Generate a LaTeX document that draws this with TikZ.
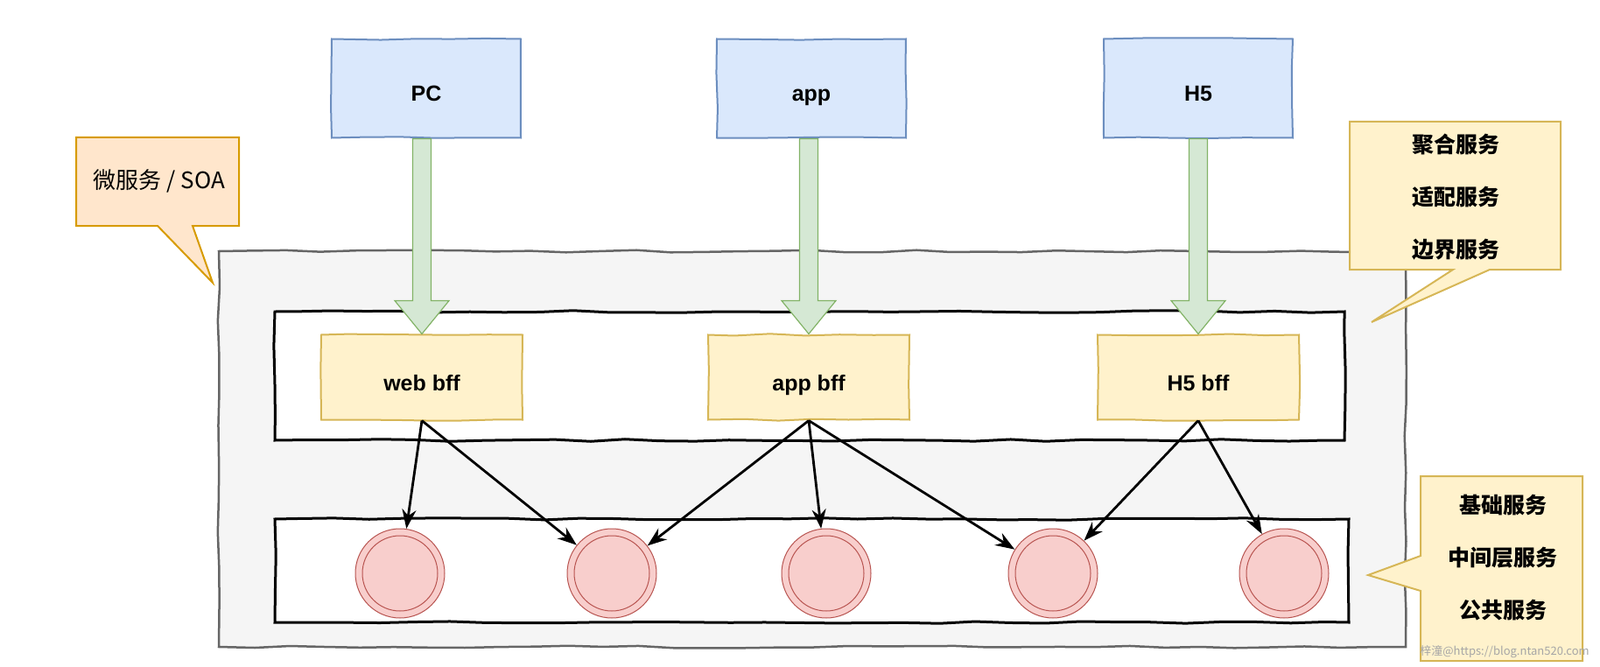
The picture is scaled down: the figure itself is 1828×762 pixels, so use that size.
\documentclass[tikz,border=0pt]{standalone}
\usepackage{fontspec}
\setmainfont{Liberation Sans}
\newfontfamily\cjk{Noto Sans CJK SC}
\usetikzlibrary{decorations.pathmorphing,arrows.meta,calc}
\definecolor{clientfill}{HTML}{DAE8FC}
\definecolor{clientline}{HTML}{6C8EBF}
\definecolor{bfffill}{HTML}{FFF2CC}
\definecolor{bffline}{HTML}{D6B656}
\definecolor{soafill}{HTML}{FFE6CC}
\definecolor{soaline}{HTML}{D79B00}
\definecolor{greenfill}{HTML}{D5E8D4}
\definecolor{greenline}{HTML}{82B366}
\definecolor{svcfill}{HTML}{F8CECC}
\definecolor{svcline}{HTML}{B85450}
\definecolor{zonefill}{HTML}{F5F5F5}
\definecolor{zoneline}{HTML}{666666}
\newcommand{\lbl}{\fontsize{25}{30}\selectfont\bfseries}
\newcommand{\cjklbl}{\fontsize{25}{60}\selectfont\cjk\bfseries}
\newcommand{\fatarrow}[2]{%
  \filldraw[fill=greenfill, draw=greenline, line width=1.2pt, line join=miter]
    ($(#1.south -| #2.north)+(-10.5,0)$) -- ($(#2.north)+(-10.5,-38)$)
    -- ($(#2.north)+(-31,-38)$) -- (#2.north) -- ($(#2.north)+(31,-38)$)
    -- ($(#2.north)+(10.5,-38)$) -- ($(#1.south -| #2.north)+(10.5,0)$) -- cycle;}

\begin{document}
\begin{tikzpicture}[x=1pt,y=-1pt,
    sketch/.style={decorate, decoration={random steps, segment length=40pt, amplitude=1.3pt}},
    client/.style={sketch, draw=clientline, fill=clientfill, line width=2pt,
      minimum width=216pt, minimum height=113pt, font=\lbl, text height=30pt, text depth=0pt},
    bff/.style={sketch, draw=bffline, fill=bfffill, line width=2pt,
      minimum width=230pt, minimum height=97pt, font=\lbl, text height=30pt, text depth=0pt},
    layer/.style={sketch, draw=black, fill=white, line width=3pt},
    svc/.style={circle, draw=svcline, fill=svcfill, line width=1pt,
      minimum size=102pt, inner sep=0pt},
    link/.style={line width=2.8pt, -{Stealth[length=22pt,width=16pt]}},
    bubble/.style={line width=2pt, line join=miter},
  ]
  \useasboundingbox (0,0) rectangle (1828,762);

  % service zone and its two layers
  \node[sketch, draw=zoneline, fill=zonefill, line width=2.5pt,
    minimum width=1356pt, minimum height=452pt] (zone) at (928,513) {};
  \node[layer, minimum width=1222pt, minimum height=147pt] (bfflayer) at (925,429.5) {};
  \node[layer, minimum width=1227pt, minimum height=118pt] (svclayer) at (927.5,652) {};

  % callouts
  \filldraw[bubble, fill=soafill, draw=soaline] (87,157) -- (273,157) -- (273,258)
    -- (220,258) -- (243,323) -- (180,258) -- (87,258) -- cycle;
  \node[font=\fontsize{26}{30}\selectfont\cjk] (soa) at (182,207) {微服务 / SOA};

  \filldraw[bubble, fill=bfffill, draw=bffline] (1542,139) -- (1783,139) -- (1783,308)
    -- (1702,308) -- (1567,368) -- (1660,308) -- (1542,308) -- cycle;
  \node[font=\cjklbl, align=center] (edgesvc) at (1663,225) {聚合服务\\适配服务\\边界服务};

  \filldraw[bubble, fill=bfffill, draw=bffline] (1623,544) -- (1808,544) -- (1808,755)
    -- (1623,755) -- (1623,675) -- (1563,657) -- (1623,635) -- cycle;
  \node[font=\cjklbl, align=center] (basesvc) at (1717,637) {基础服务\\中间层服务\\公共服务};

  % clients
  \node[client] (pc) at (487,101) {PC};
  \node[client] (app) at (927,101) {app};
  \node[client] (hfive) at (1369,101) {H5};

  % bff
  \node[bff] (webbff) at (482,431) {web bff};
  \node[bff] (appbff) at (924,431) {app bff};
  \node[bff] (hfivebff) at (1369,431) {H5 bff};

  \fatarrow{pc}{webbff}
  \fatarrow{app}{appbff}
  \fatarrow{hfive}{hfivebff}

  % services
  \foreach \i/\x in {1/457,2/699,3/944,4/1203,5/1467}{
    \node[svc] (s\i) at (\x,655) {};
    \draw[svcline, line width=1pt] (s\i.center) circle (43);
  }

  \draw[link] (webbff.south) -- (s1);
  \draw[link] (webbff.south) -- (s2);
  \draw[link] (appbff.south) -- (s2);
  \draw[link] (appbff.south) -- (s3);
  \draw[link] (appbff.south) -- (s4);
  \draw[link] (hfivebff.south) -- (s4);
  \draw[link] (hfivebff.south) -- (s5);

  \node[font=\fontsize{13}{16}\selectfont\cjk, text=gray!70] (mark) at (1719,745)
    {梓潼@https://blog.ntan520.com};
\end{tikzpicture}
\end{document}
